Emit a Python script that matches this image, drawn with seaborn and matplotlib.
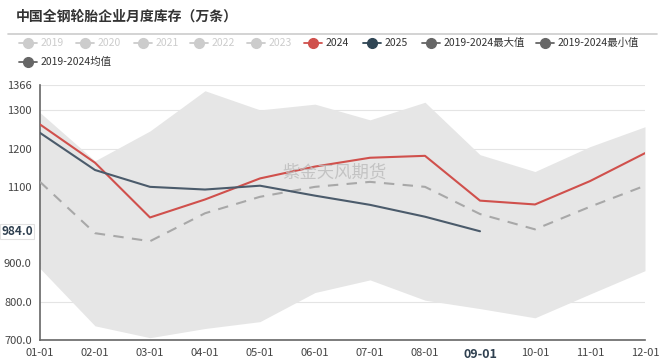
import numpy as np
import pandas as pd
import matplotlib
matplotlib.use("Agg")
import matplotlib.pyplot as plt
from matplotlib.lines import Line2D
import seaborn as sns

# =========================================
# DATA
# =========================================

months = ["01-01", "02-01", "03-01", "04-01", "05-01", "06-01",
          "07-01", "08-01", "09-01", "10-01", "11-01", "12-01"]

y2024 = [1263, 1163, 1020, 1067, 1122, 1153, 1176, 1181, 1064, 1054, 1115, 1188]
y2025 = [1241, 1144, 1100, 1093, 1103, 1077, 1053, 1022, 984]
avg_19_24 = [1113, 979, 958, 1031, 1074, 1100, 1113, 1100, 1029, 989, 1048, 1103]
max_19_24 = [1294, 1168, 1246, 1351, 1301, 1316, 1275, 1321, 1184, 1140, 1205, 1257]
min_19_24 = [887, 737, 706, 730, 748, 824, 857, 804, 782, 758, 820, 881]

yticks = [700, 800, 900, 1000, 1100, 1200, 1300, 1366]
ytick_labels = ["700.0", "800.0", "900.0", "", "1100", "1200", "1300", "1366"]

legend_names = ["2019", "2020", "2021", "2022", "2023", "2024", "2025",
                "2019-2024最大值", "2019-2024最小值", "2019-2024均值"]

# =========================================
# STYLE
# =========================================

sns.set_style("white")
plt.rcParams['font.family'] = ['Noto Sans CJK SC', 'DejaVu Sans']

red = "#d0504c"
navy = "#4b5b6b"
dash_gray = "#a8a8a8"
band = "#e6e6e6"
faded = "#cccccc"

fig = plt.figure(figsize=(6.67, 3.62), dpi=100)
W, H = 667, 362
ax = fig.add_axes([40 / W, (H - 340) / H, 605 / W, 255 / H])

x = np.arange(len(months))

df_main = pd.DataFrame({"x": x, "2024": y2024, "均值": avg_19_24})
df_2025 = pd.DataFrame({"x": x[:len(y2025)], "2025": y2025})

# band between max and min
ax.fill_between(x, min_19_24, max_19_24, color=band, lw=0, zorder=1)

sns.lineplot(data=df_main, x="x", y="均值", ax=ax, color=dash_gray,
             lw=1.5, linestyle=(0, (5, 4)), zorder=3)
sns.lineplot(data=df_main, x="x", y="2024", ax=ax, color=red, lw=1.5, zorder=4)
sns.lineplot(data=df_2025, x="x", y="2025", ax=ax, color=navy, lw=1.5, zorder=5)

# watermark
ax.text(5.35, 1136, "紫金天风期货", fontsize=12.5, color="#bbbbbb",
        ha="center", va="center", alpha=0.8, zorder=6)

# =========================================
# AXES
# =========================================

ax.set_xlim(0, 11)
ax.set_ylim(700, 1366)
ax.set_xticks(x)
ax.set_xticklabels(months, fontsize=8, color="#444444")
ax.set_yticks(yticks)
ax.set_yticklabels(ytick_labels, fontsize=8, color="#444444")
ax.set_xlabel("")
ax.set_ylabel("")

for t in yticks:
    ax.axhline(t, color="#e4e4e4", lw=0.8, zorder=0)

for s in ["top", "right"]:
    ax.spines[s].set_visible(False)
for s in ["left", "bottom"]:
    ax.spines[s].set_color("#666666")
    ax.spines[s].set_linewidth(1.2)
ax.tick_params(axis="both", length=4, width=1, color="#666666", pad=2)

# highlight 09-01 tick
lbl = ax.get_xticklabels()[8]
lbl.set_fontweight("bold")
lbl.set_color("#2f4050")
lbl.set_fontsize(9)

# axis pointer label on y
ax.text(-0.012, 984, "984.0", transform=ax.get_yaxis_transform(),
        ha="right", va="center", fontsize=8.5, fontweight="bold", color="#2f4050",
        bbox=dict(boxstyle="square,pad=0.1", fc="white", ec="#e0e0e0", lw=0.8),
        zorder=10, clip_on=False)

# =========================================
# TITLE + LEGEND
# =========================================

fig.text(16 / W, 1 - 17 / H, "中国全钢轮胎企业月度库存（万条）", fontsize=10,
         fontweight="bold", color="#333333", ha="left", va="center")
fig.add_artist(Line2D([8 / W, 657 / W], [1 - 34 / H, 1 - 34 / H],
                      color="#cccccc", lw=1.2))

legend_colors = [faded] * 5 + [red, "#2f4554", "#666666", "#666666", "#666666"]
text_colors = [faded] * 5 + ["#333333"] * 5
legend_x = [28, 85, 143, 199, 256, 313, 372, 431, 545, 28]
legend_y = [43] * 9 + [62]

for name, c, tc, lx, ly in zip(legend_names, legend_colors, text_colors,
                               legend_x, legend_y):
    fy = 1 - ly / H
    fig.add_artist(Line2D([(lx - 9) / W, (lx + 9) / W], [fy, fy],
                          color=c, lw=1.3))
    fig.add_artist(Line2D([lx / W], [fy], marker="o", markersize=7,
                          color=c, lw=0))
    fig.text((lx + 13) / W, fy, name, fontsize=7.5, color=tc,
             ha="left", va="center")

fig.savefig("out.png", dpi=100)
